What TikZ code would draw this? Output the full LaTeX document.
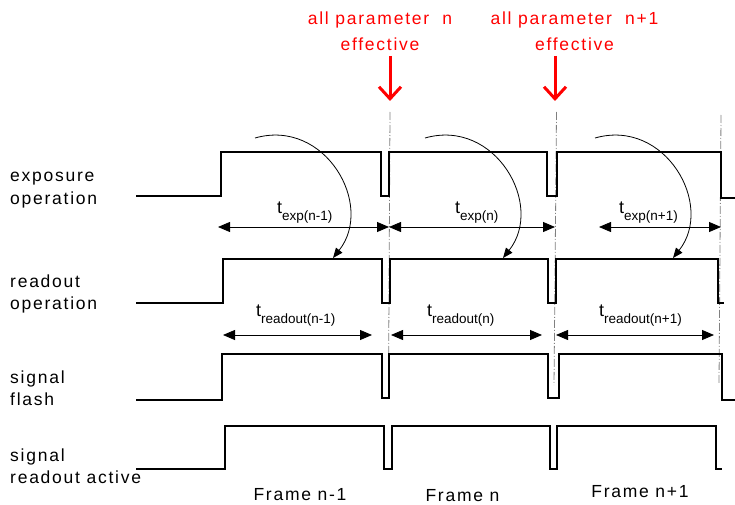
\documentclass[tikz,border=0pt]{standalone}
\usepackage{fontspec}
\setmainfont{Liberation Sans}
\newfontfamily\lblfont{Liberation Sans}[LetterSpace=10]
\newfontfamily\subfont{Liberation Sans}
\usetikzlibrary{arrows.meta}
\tikzset{
	sig/.style={line width=1.7pt, line join=miter},
	dimarr/.style={line width=0.8pt, {Triangle[length=12pt,width=10pt]}-{Triangle[length=12pt,width=10pt]}},
	curarr/.style={line width=0.8pt, -{Triangle[length=10pt,width=8pt]}},
	frameline/.style={gray, line width=0.8pt, dash pattern=on 8pt off 2pt on 1pt off 2pt},
	redarr/.style={red, line width=3pt, -{Straight Barb[length=12pt,width=22pt]}},
	lbl/.style={inner sep=0pt, anchor=base west, align=left, font=\lblfont\fontsize{17.5}{22}\selectfont},
	redlbl/.style={inner sep=0pt, anchor=base, align=center, text=red, font=\lblfont\fontsize{17.5}{26}\selectfont},
	framelbl/.style={inner sep=0pt, anchor=base, font=\lblfont\fontsize{17.5}{17.5}\selectfont},
	tlbl/.style={inner sep=0pt, anchor=base west}
}
\newcommand{\tsub}[1]{{\subfont\fontsize{18}{18}\selectfont t}\raisebox{-7pt}{\subfont\fontsize{13.5}{13.5}\selectfont #1}}

\begin{document}
\begin{tikzpicture}[x=1pt, y=-1pt]
	\useasboundingbox (0,0) rectangle (735,505);
	%%%%% LABELS %%%%%
	% base of a two line label = its second line
	\node[lbl] (lexp) at (10,204) {exposure\\operation};
	\node[lbl] (lread) at (10,309) {readout\\operation};
	\node[lbl] (lflash) at (10,405) {signal\\flash};
	\node[lbl] (lactive) at (10,483) {signal\\readout active};
	
	\node[redlbl] (parn) at (380,51) {all parameter\ \ n\\effective};
	\node[redlbl] (parnn) at (574.5,51) {all parameter\ \ n+1\\effective};
	\draw[redarr] (390,56) -- (390,101);
	\draw[redarr] (555,56) -- (555,101);
	
	%%%%% FRAME BOUNDARIES %%%%%
	\draw[frameline] (390,112) -- (388.5,385);
	\draw[frameline] (556.5,112) -- (554,385);
	\draw[frameline] (721,115) -- (719,383);
	
	%%%%% SIGNALS %%%%%
	% exposure
	\draw[sig] (136,196) -- (221,196) -- (221,152) -- (381,152) -- (381,196) -- (389,196) -- (389,152)
		-- (547,152) -- (547,196) -- (557,196) -- (557,152) -- (721,152) -- (721,198) -- (735,198);
	% readout
	\draw[sig] (136,303) -- (223,303) -- (223,259) -- (382,259) -- (382,303) -- (390,303) -- (390,259)
		-- (548,259) -- (548,303) -- (556,303) -- (556,259) -- (718,259) -- (718,303) -- (724,303);
	% flash
	\draw[sig] (136,400) -- (222,400) -- (222,354) -- (382,354) -- (382,398) -- (389,398) -- (389,354)
		-- (548,354) -- (548,398) -- (559,398) -- (559,354) -- (722,354) -- (722,400) -- (735,400);
	% readout active
	\draw[sig] (136,469) -- (225,469) -- (225,426) -- (384,426) -- (384,469) -- (392,469) -- (392,426)
		-- (550,426) -- (550,469) -- (557,469) -- (557,426) -- (716,426) -- (716,469) -- (722,469);
	
	%%%%% TIMES %%%%%
	\draw[dimarr] (218,227) -- (389,227);
	\draw[dimarr] (389,227) -- (555,227);
	\draw[dimarr] (599,227) -- (721,227);
	\node[tlbl] (texpa) at (277,213) {\tsub{exp(n-1)}};
	\node[tlbl] (texpb) at (455,213) {\tsub{exp(n)}};
	\node[tlbl] (texpc) at (619,213) {\tsub{exp(n+1)}};
	
	\draw[dimarr] (223,335) -- (372,335);
	\draw[dimarr] (391,335) -- (542,335);
	\draw[dimarr] (556,335) -- (714,335);
	\node[tlbl] (treada) at (256,316) {\tsub{readout(n-1)}};
	\node[tlbl] (treadb) at (427,316) {\tsub{readout(n)}};
	\node[tlbl] (treadc) at (599,316) {\tsub{readout(n+1)}};
	
	% exposure ends -> readout starts
	\foreach \x in {255,425,595}
		\draw[curarr] (\x,138) .. controls (\x+70,118) and (\x+120,205) .. (\x+78,258);
	
	\node[framelbl] (fra) at (300,500) {Frame n-1};
	\node[framelbl] (frb) at (462.5,501) {Frame n};
	\node[framelbl] (frc) at (640,497) {Frame n+1};
\end{tikzpicture}
\end{document}
